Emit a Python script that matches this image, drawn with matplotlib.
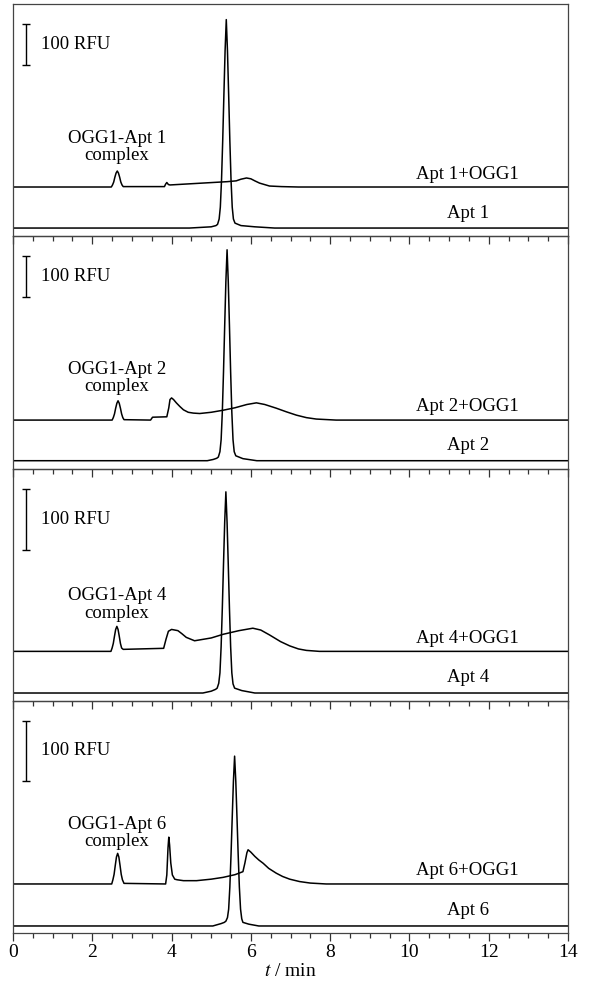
import matplotlib
matplotlib.use("Agg")
import matplotlib.pyplot as plt
from matplotlib.transforms import blended_transform_factory
from matplotlib.ticker import MultipleLocator

plt.rcParams['font.family'] = ['Liberation Serif', 'DejaVu Serif']
plt.rcParams['mathtext.fontset'] = 'stix'

# ---------------- data (t in min, signal in RFU above each trace's baseline) --------------
aptamers = ["Apt 1", "Apt 2", "Apt 4", "Apt 6"]
complex_labels = ["OGG1-Apt 1\ncomplex", "OGG1-Apt 2\ncomplex", "OGG1-Apt 4\ncomplex", "OGG1-Apt 6\ncomplex"]
mix_labels = ["Apt 1+OGG1", "Apt 2+OGG1", "Apt 4+OGG1", "Apt 6+OGG1"]

# free aptamer traces
apt1_t = [0, 4.45, 5.0, 5.12, 5.16, 5.20, 5.23, 5.26, 5.29, 5.32, 5.35, 5.38, 5.41, 5.44, 5.47, 5.50, 5.53, 5.56, 5.60, 5.75, 6.1, 6.6, 14]
apt1_y = [0, 0, 3, 6, 9, 22, 51, 117, 213, 325, 432, 508, 432, 325, 213, 117, 51, 22, 12, 6, 3, 0, 0]

apt2_t = [0, 4.9, 5.05, 5.14, 5.18, 5.22, 5.25, 5.28, 5.31, 5.34, 5.37, 5.40, 5.43, 5.46, 5.49, 5.52, 5.55, 5.58, 5.62, 5.8, 6.15, 14]
apt2_y = [0, 0, 3, 6, 9, 22, 51, 118, 216, 329, 437, 514, 437, 329, 216, 118, 51, 22, 12, 5, 0, 0]

apt4_t = [0, 4.79, 5.0, 5.11, 5.15, 5.19, 5.22, 5.25, 5.28, 5.31, 5.34, 5.37, 5.40, 5.43, 5.46, 5.49, 5.52, 5.55, 5.59, 5.77, 6.1, 14]
apt4_y = [0, 0, 3, 6, 8, 16, 33, 76, 139, 211, 280, 330, 280, 211, 139, 76, 33, 15, 8, 4, 0, 0]

apt6_t = [0, 5.04, 5.25, 5.33, 5.37, 5.41, 5.44, 5.47, 5.50, 5.53, 5.56, 5.59, 5.62, 5.65, 5.68, 5.71, 5.74, 5.77, 5.80, 5.95, 6.2, 14]
apt6_y = [0, 0, 4, 6, 8, 14, 28, 65, 119, 181, 241, 283, 241, 181, 119, 65, 28, 12, 6, 3, 0, 0]

# aptamer + OGG1 traces
mix1_t = [0, 2.48, 2.51, 2.54, 2.57, 2.60, 2.63, 2.66, 2.69, 2.72, 2.75, 2.78, 3.82, 3.85, 3.88, 3.92, 3.96, 4.5,
          5.04, 5.4, 5.63, 5.75, 5.89, 6.0, 6.1, 6.22, 6.47, 6.77, 7.2, 14]
mix1_y = [0, 0, 5, 12, 24, 34, 39, 34, 24, 12, 5, 1, 1, 7, 11, 6, 5, 8,
          11, 13, 15, 19, 22, 20, 15, 9.5, 2.4, 1, 0, 0]

mix2_t = [0, 2.50, 2.53, 2.56, 2.59, 2.62, 2.65, 2.68, 2.71, 2.74, 2.77, 2.80, 3.47, 3.52, 3.88, 3.93, 3.96, 4.00,
          4.05, 4.12, 4.21, 4.30, 4.42, 4.55, 4.71, 5.0, 5.3, 5.6, 5.9, 6.14, 6.35, 6.64, 6.9, 7.15, 7.4, 7.65, 8.15, 14]
mix2_y = [0, 0, 6, 15, 29, 41, 47, 41, 29, 15, 6, 1, 0, 7, 8, 30, 50, 54,
          50, 42, 33, 25, 19, 17, 16, 19, 24, 30, 38, 42, 38, 29, 20, 12, 6, 2.5, 0, 0]

mix4_t = [0, 2.47, 2.50, 2.53, 2.56, 2.59, 2.62, 2.65, 2.68, 2.71, 2.74, 2.78, 3.80, 3.86, 3.92, 4.00, 4.16, 4.26,
          4.37, 4.58, 5.0, 5.30, 5.7, 6.05, 6.25, 6.47, 6.75, 6.98, 7.2, 7.40, 7.73, 14]
mix4_y = [0, 0, 5.5, 13, 25, 36, 41, 36, 25, 13, 5.5, 3.3, 5, 20, 33, 36, 34, 29,
          23, 17.4, 22, 28, 34, 38, 35, 27, 16, 9, 4, 1.6, 0, 0]

mix6_t = [0, 2.49, 2.52, 2.55, 2.58, 2.61, 2.64, 2.67, 2.70, 2.73, 2.76, 2.80, 3.85, 3.88, 3.91, 3.93, 3.95, 3.98,
          4.02, 4.08, 4.14, 4.3, 4.63, 5.0, 5.3, 5.6, 5.8, 5.85, 5.9, 5.93, 6.0, 6.1, 6.2, 6.31, 6.45, 6.64, 6.8,
          6.98, 7.23, 7.5, 7.9, 14]
mix6_y = [0, 0, 7, 16, 31, 45, 51, 45, 31, 16, 7, 1, 0, 15, 60, 78, 65, 35,
          15, 8, 7, 5.5, 5.5, 8, 11, 15.5, 20.5, 35, 52, 57, 53, 46, 40, 34.5, 26, 18, 12.5,
          8, 4, 1.5, 0, 0]

apt_t = [apt1_t, apt2_t, apt4_t, apt6_t]
apt_y = [apt1_y, apt2_y, apt4_y, apt6_y]
mix_t = [mix1_t, mix2_t, mix4_t, mix6_t]
mix_y = [mix1_y, mix2_y, mix4_y, mix6_y]

x_ticks = [0, 2, 4, 6, 8, 10, 12, 14]
scale_bar_rfu = 100

# ---------------- layout / style --------------
W, H, DPI = 590, 993, 100
ylims = [566, 566, 381, 387]          # RFU span of each panel
apt_offset = [20, 19, 12.7, 11.7]     # display baseline of free aptamer trace
mix_offset = [120, 118, 81, 81.7]     # display baseline of aptamer+OGG1 trace
complex_text_y = [0.385, 0.39, 0.415, 0.43]  # axes fraction

left_px, right_px = 13, 568
top_px, bot_px = 4, 933
panel_h = (bot_px - top_px) / 4

fig = plt.figure(figsize=(W / DPI, H / DPI), dpi=DPI)
axes = []
for i in range(4):
    y_bottom_px = top_px + (i + 1) * panel_h
    ax = fig.add_axes([left_px / W, 1 - y_bottom_px / H, (right_px - left_px) / W, panel_h / H])
    ax.patch.set_visible(False)
    axes.append(ax)

for i, ax in enumerate(axes):
    ax.set_xlim(0, 14)
    ax.set_ylim(0, ylims[i])
    ax.plot(apt_t[i], [v + apt_offset[i] for v in apt_y[i]], color='black', lw=1.1)
    ax.plot(mix_t[i], [v + mix_offset[i] for v in mix_y[i]], color='black', lw=1.1)
    for s in ax.spines.values():
        s.set_color('#444444')
        s.set_linewidth(0.9)
    ax.set_yticks([])
    ax.xaxis.set_major_locator(MultipleLocator(2))
    ax.xaxis.set_minor_locator(MultipleLocator(0.5))
    ax.tick_params(axis='x', which='major', direction='out', length=6, width=0.9, color='#333333',
                   labelsize=14, pad=2, top=False)
    ax.tick_params(axis='x', which='minor', direction='out', length=3.5, width=0.9, color='#333333', top=False)
    if i < 3:
        ax.tick_params(axis='x', labelbottom=False)
    else:
        ax.set_xticks(x_ticks)
        ax.set_xticklabels([str(v) for v in x_ticks])
        ax.set_xlabel(r'$\it{t}$ / min', fontsize=14, labelpad=1)

    trans = blended_transform_factory(ax.transData, ax.transAxes)
    # scale bar
    ytop = 0.913 * ylims[i]
    ymid = ytop - scale_bar_rfu / 2
    ax.errorbar([0.33], [ymid], yerr=[scale_bar_rfu / 2], color='black', lw=1.0, capsize=2.7, capthick=1.0)
    ax.text(0.71, ymid, "100 RFU", fontsize=13.5, ha='left', va='center')
    # labels
    ax.text(2.62, complex_text_y[i], complex_labels[i], transform=trans, fontsize=13.5,
            ha='center', va='center', linespacing=1.05)
    ax.text(11.47, 0.267, mix_labels[i], transform=trans, fontsize=13.5, ha='center', va='center')
    ax.text(11.47, 0.099, aptamers[i], transform=trans, fontsize=13.5, ha='center', va='center')

fig.savefig("out.png", dpi=DPI)
